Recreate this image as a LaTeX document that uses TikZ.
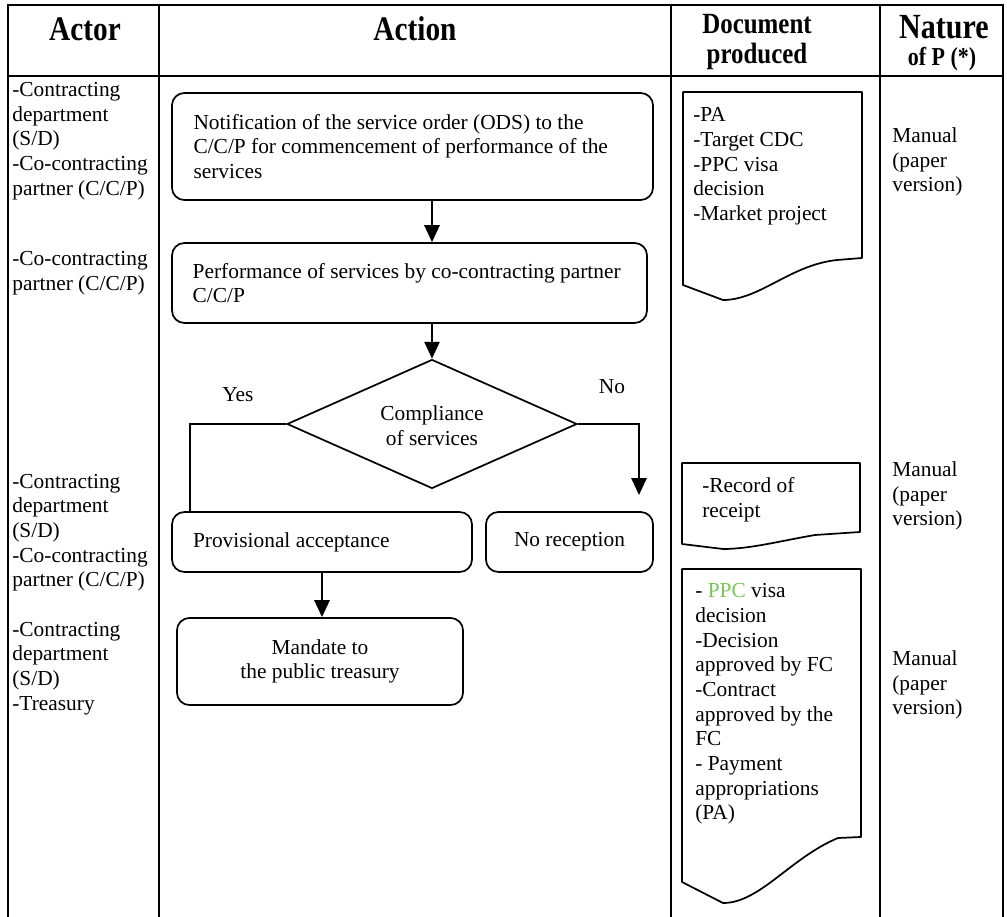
\documentclass[tikz,border=0pt]{standalone}
\usepackage{fontspec}
\usepackage{graphicx}
\setmainfont{Liberation Serif}
\usetikzlibrary{shapes.geometric,arrows.meta}
\definecolor{ppcgreen}{RGB}{120,196,84}
\newcommand{\headtxt}[1]{\scalebox{0.85}[1]{#1}}

\begin{document}
\begin{tikzpicture}[x=0.58pt,y=-0.58pt,
  tabline/.style={line width=1.3pt},
  flowbox/.style={draw,line width=1pt,rounded corners=7.2pt,font=\fontsize{12.4}{14.3}\selectfont},
  cell/.style={anchor=west,align=left,font=\fontsize{12.4}{14.3}\selectfont},
  head/.style={align=center,font=\fontsize{20}{22}\selectfont\bfseries},
  arr/.style={line width=1.3pt,-{Triangle[length=9.8pt,width=8.8pt]}},
  doc/.style={line width=1pt,line join=round}]
\tikzstyle{every node}+=[inner sep=0pt]
\useasboundingbox (0,0) rectangle (1007,917);

\draw [tabline] (8,917) -- (8,5) -- (1003,5) -- (1003,917);
\draw [tabline] (8,76) -- (1003,76);
\draw [tabline] (159,5) -- (159,917);
\draw [tabline] (671,5) -- (671,917);
\draw [tabline] (880,5) -- (880,917);

\node [head] (hactor) at (85,29) {\headtxt{Actor}};
\node [head] (haction) at (415,29) {\headtxt{Action}};
\node [head,font=\fontsize{17}{17.4}\selectfont\bfseries] (hdoc) at (757,42) {\headtxt{Document}\\\headtxt{produced}};
\node [head,font=\fontsize{20.5}{22}\selectfont\bfseries] (hnat) at (944,27) {\headtxt{Nature}};
\node [head,font=\fontsize{15}{16}\selectfont\bfseries] (hnatp) at (942,59) {\headtxt{of P (*)}};

\node [cell] (act1) at (12,141) {-Contracting\\department\\(S/D)\\-Co-contracting\\partner (C/C/P)};
\node [cell] (act2) at (12,273.3) {-Co-contracting\\partner (C/C/P)};
\node [cell] (act3) at (12,532.6) {-Contracting\\department\\(S/D)\\-Co-contracting\\partner (C/C/P)};
\node [cell] (act4) at (12,668.5) {-Contracting\\department\\(S/D)\\-Treasury};

\node [flowbox,text width=254pt,inner xsep=12.5pt,minimum height=62.1pt,align=flush left] (notif) at (412.5,146.5) {Notification of the service order (ODS) to the\\C/C/P for commencement of performance of the\\services};
\node [flowbox,text width=251.5pt,inner xsep=12pt,minimum height=46.4pt,align=flush left] (perf) at (409.5,283) {Performance of services by co-contracting partner\\C/C/P};
\node [diamond,draw,line width=1pt,minimum width=168.2pt,minimum height=74.8pt] (compl) at (432,424) {};
\node [cell,anchor=center,align=center] (compltxt) at (432,426) {Compliance\\of services};
\node [cell,anchor=center] (yes) at (238,395) {Yes};
\node [cell,anchor=center] (no) at (612,387) {No};
\node [flowbox,text width=149.6pt,inner xsep=12.2pt,minimum height=34.8pt,align=flush left] (prov) at (322,542) {Provisional acceptance};
\node [flowbox,minimum width=96.9pt,minimum height=34.8pt] (norec) at (569.5,542) {No reception};
\node [flowbox,minimum width=165.9pt,minimum height=50.5pt,align=center] (mand) at (320,661.5) {Mandate to\\the public treasury};
\coordinate (yesend) at (190,512);
\coordinate (noend) at (639,495);

\draw [arr] (notif.south -| compl.north) -- (perf.north -| compl.north);
\draw [arr] (perf.south -| compl.north) -- (compl.north);
\draw [line width=1.3pt] (compl.west) -| (yesend);
\draw [arr] (compl.east) -| (noend);
\draw [arr] (prov.south) -- (prov.south |- mand.north);

\draw [doc] (683,285) -- (683,92) -- (862,92) -- (862,258) -- (837,260) .. controls (790,265) and (760,300) .. (723,300) -- cycle;
\draw [doc] (682,544) -- (682,463) -- (860,463) -- (860,532) -- (815,535) .. controls (780,541) and (750,549) .. (723,549) -- cycle;
\draw [doc] (682,882) -- (682,569) -- (861,569) -- (861,837) -- (838,838) .. controls (790,858) and (760,903) .. (723,903) -- cycle;
\node [cell] (doctxt1) at (693,166.5) {-PA\\-Target CDC\\-PPC visa\\decision\\-Market project};
\node [cell] (doctxt2) at (702,499.5) {-Record of\\receipt};
\node [cell] (doctxt3) at (695,704) {- \textcolor{ppcgreen}{PPC} visa\\decision\\-Decision\\approved by FC\\-Contract\\approved by the\\FC\\- Payment\\appropriations\\(PA)};

\node [cell] (nat1) at (892,162) {Manual\\(paper\\version)};
\node [cell] (nat2) at (892,496) {Manual\\(paper\\version)};
\node [cell] (nat3) at (892,685) {Manual\\(paper\\version)};
\end{tikzpicture}
\end{document}
